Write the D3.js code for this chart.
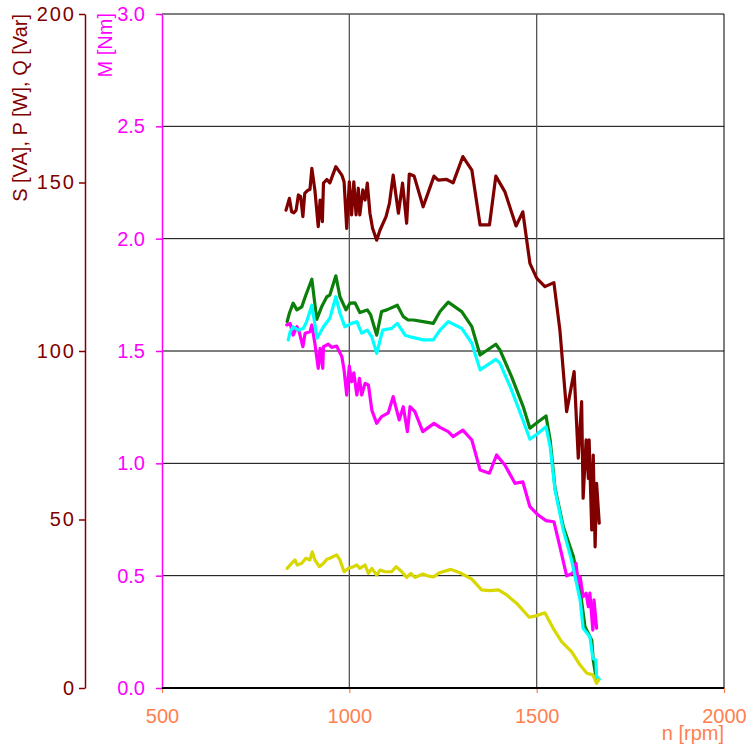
<!DOCTYPE html>
<html><head><meta charset="utf-8">
<script src="https://cdn.jsdelivr.net/npm/d3@7"></script>
<style>body{margin:0;background:#fff} svg{display:block;font-family:"Liberation Sans",Arial,sans-serif}</style>
</head><body><svg id="c" width="751" height="748"></svg>
<script>
const xTicks=[500,1000,1500,2000];
const xTickLabels=["500","1000","1500","2000"];
const sTicks=[0,50,100,150,200];
const sTickLabels=["0","50","100","150","200"];
const mTicks=[0,0.5,1,1.5,2,2.5,3];
const mTickLabels=["0.0","0.5","1.0","1.5","2.0","2.5","3.0"];

const nS=[831,840,846,852,858,864,870,876,881,888,895,900,908,917,922,928,931,940,948,964,980,986,993,1000,1006,1012,1018,1024,1028,1036,1042,1048,1055,1062,1073,1082,1098,1107,1117,1131,1142,1153,1160,1173,1197,1226,1237,1260,1277,1303,1327,1349,1374,1391,1415,1445,1463,1482,1500,1522,1546,1562,1580,1600,1611,1620,1624,1632,1638,1640,1647,1651,1656,1660,1667];
const S=[141.8,145.3,141.3,141,141.8,146.3,145.8,139.9,146.8,147.6,148,154.2,147.8,136.9,144.8,138.4,149.8,150.9,149.9,154.7,152.2,150.2,136.4,150.2,140.4,150.2,140.4,148.3,140.4,147.8,144.8,149.8,140.9,136.4,132.9,135.9,139.9,143.8,152.2,140.9,149.8,137.9,152.5,151.9,142.8,151.9,150.7,150.9,149.9,157.7,153.7,137.4,137.4,151.9,147.3,137.1,141.3,126,121.6,119.1,120.3,106.2,82,93.9,68.2,85,56.3,73.6,62.2,73.6,46.9,69.1,41.9,60.7,48.9];

const nP=[834,840,850,860,873,884,900,913,926,940,948,964,975,991,1002,1015,1028,1048,1057,1073,1086,1100,1128,1144,1157,1171,1197,1224,1242,1264,1300,1327,1349,1391,1402,1433,1464,1482,1504,1525,1536,1549,1571,1598,1616,1629,1647,1651,1658,1665];
const P=[108.7,111.2,114.2,112.2,113.1,116.6,121.3,109.4,113.1,116.1,116.6,122.3,116.1,112.2,114.2,114.3,111.4,112.2,110.7,104.7,111.7,112.2,113.6,110.2,109.2,109.2,108.7,108.2,111.7,114.5,111.7,107.2,98.8,102,100.3,92.4,83.5,77.1,79,80.7,73.6,59.3,47.9,39,29.1,18.2,14.2,8.3,3.4,2.4];

const nQ=[837,842,850,864,877,886,900,914,931,948,964,975,988,1006,1020,1033,1048,1060,1073,1089,1113,1128,1149,1166,1197,1224,1242,1264,1300,1327,1349,1391,1402,1433,1460,1482,1504,1525,1536,1549,1571,1593,1616,1624,1642,1650,1658,1660,1667];
const Q=[103.3,105.7,107.2,106.2,106.7,108.7,113.6,103.8,107.2,109.7,116.1,111.2,107.2,108.2,108.7,105.3,106.2,104.2,99.3,106.2,106.7,108.2,104.7,104.1,103.3,103.3,106.2,108.7,106.7,102.3,94.4,97.5,96.4,88.4,80.5,73.8,75.6,77.5,71.6,58.8,46.9,38,26.1,17.7,15.2,8.8,8.3,3.4,2.6];

const nM=[833,842,850,860,866,876,882,895,900,908,917,922,929,931,944,953,966,980,986,993,1000,1006,1012,1020,1027,1033,1042,1051,1060,1073,1086,1104,1117,1133,1144,1155,1162,1175,1196,1226,1242,1264,1277,1303,1327,1349,1374,1393,1415,1442,1463,1482,1504,1525,1546,1562,1580,1596,1605,1611,1616,1624,1632,1638,1642,1650,1653,1658,1660];
const M=[1.616,1.623,1.571,1.608,1.586,1.519,1.579,1.586,1.616,1.534,1.423,1.512,1.423,1.519,1.531,1.516,1.522,1.475,1.415,1.304,1.433,1.363,1.403,1.304,1.378,1.304,1.356,1.349,1.237,1.178,1.208,1.225,1.297,1.193,1.252,1.141,1.252,1.230,1.141,1.178,1.160,1.141,1.119,1.148,1.104,0.970,0.956,1.037,0.993,0.911,0.918,0.807,0.770,0.745,0.740,0.629,0.499,0.511,0.555,0.466,0.495,0.406,0.422,0.362,0.422,0.258,0.392,0.303,0.266];

const nY=[834,846,855,861,873,884,895,901,908,920,931,940,948,966,975,986,997,1011,1020,1028,1042,1051,1060,1073,1082,1095,1113,1125,1140,1153,1164,1175,1196,1211,1226,1240,1271,1295,1327,1353,1374,1398,1420,1447,1480,1498,1522,1544,1567,1593,1616,1634,1650,1660,1665];
const Y=[35.5,37,38,36.5,37,38.5,38,40.4,38,36,37,38.2,38.5,39.5,38,34.5,35.5,36,36.5,35.5,36.5,34,35.5,33.5,35,34.5,34.5,36,34.5,32.8,34,32.8,33.8,33.2,33,34.2,35.2,34.2,32.3,29.1,28.9,29.1,27.6,25.1,21,21.4,22.3,17.7,13.7,10.8,6.8,4.4,3.9,1.4,2.4];

const svg=d3.select("#c");
const x=d3.scaleLinear().domain([500,2000]).range([162,724]);
const yS=d3.scaleLinear().domain([0,200]).range([688,14]);
const yM=d3.scaleLinear().domain([0,3]).range([688,14]);
const FONT="Liberation Sans, Arial, sans-serif";

// grid
const g=svg.append("g");
g.selectAll("line.h").data(mTicks.slice(1)).join("line")
  .attr("x1",x(500)).attr("x2",x(2000)).attr("y1",d=>yM(d)).attr("y2",d=>yM(d))
  .attr("stroke","#000").attr("stroke-width",1);
g.selectAll("line.v").data(xTicks.slice(1)).join("line")
  .attr("x1",d=>x(d)).attr("x2",d=>x(d)).attr("y1",yM(0)).attr("y2",yM(3))
  .attr("stroke",d=>d===2000?"#000":"#555").attr("stroke-width",d=>d===2000?1:1.3);

// S axis
const aS=svg.append("g").attr("transform","translate(85,0)")
  .call(d3.axisLeft(yS).tickValues(sTicks).tickFormat((d,i)=>sTickLabels[i]).tickSize(6).tickSizeOuter(0).tickPadding(3));
aS.select(".domain").attr("stroke","#800000").attr("stroke-width",1.5);
aS.selectAll(".tick line").attr("stroke","#800000").attr("stroke-width",1.5);
aS.selectAll(".tick text").attr("fill","#800000").attr("font-size",20).attr("font-family",FONT)
  .attr("letter-spacing","2px");

// M axis
const aM=svg.append("g").attr("transform","translate(162,0)")
  .call(d3.axisLeft(yM).tickValues(mTicks).tickFormat((d,i)=>mTickLabels[i]).tickSize(6).tickSizeOuter(0).tickPadding(11));
aM.select(".domain").attr("stroke","#ff00ff").attr("stroke-width",1.5);
aM.selectAll(".tick line").attr("stroke","#ff00ff").attr("stroke-width",1.5);
aM.selectAll(".tick text").attr("fill","#ff00ff").attr("font-size",20).attr("font-family",FONT);

// X axis
const aX=svg.append("g").attr("transform","translate(0,688)")
  .call(d3.axisBottom(x).tickValues(xTicks).tickFormat((d,i)=>xTickLabels[i]).tickSize(5).tickSizeOuter(0).tickPadding(16));
aX.select(".domain").attr("stroke","none");
aX.selectAll(".tick line").attr("stroke","#ff7f50").attr("stroke-width",1.2);
aX.selectAll(".tick text").attr("fill","#ff7f50").attr("font-size",20).attr("font-family",FONT);
svg.append("line").attr("x1",x(500)).attr("x2",x(2000)).attr("y1",688).attr("y2",688)
  .attr("stroke","#000").attr("stroke-width",2.2);

// axis titles
svg.append("text").attr("transform","translate(27,14) rotate(-90)").attr("text-anchor","end")
  .attr("fill","#800000").attr("font-size",20).text("S [VA], P [W], Q [Var]");
svg.append("text").attr("transform","translate(112,13) rotate(-90)").attr("text-anchor","end")
  .attr("fill","#ff00ff").attr("font-size",20).text("M [Nm]");
svg.append("text").attr("x",724).attr("y",740).attr("text-anchor","end")
  .attr("fill","#ff7f50").attr("font-size",20).text("n [rpm]");

// curves
const zip=(a,b)=>a.map((v,i)=>[v,b[i]]);
const lineS=d3.line().x(d=>x(d[0])).y(d=>yS(d[1]));
const lineM=d3.line().x(d=>x(d[0])).y(d=>yM(d[1]));
const series=[
  {d:zip(nS,S),l:lineS,c:"#800000"},
  {d:zip(nP,P),l:lineS,c:"#0a800a"},
  {d:zip(nM,M),l:lineM,c:"#ff00ff"},
  {d:zip(nQ,Q),l:lineS,c:"#00ffff"},
  {d:zip(nY,Y),l:lineS,c:"#d8d800"}
];
svg.append("g").selectAll("path").data(series).join("path")
  .attr("d",s=>s.l(s.d)).attr("fill","none").attr("stroke",s=>s.c)
  .attr("stroke-width",3.2).attr("stroke-linejoin","round").attr("stroke-linecap","round");
</script></body></html>
